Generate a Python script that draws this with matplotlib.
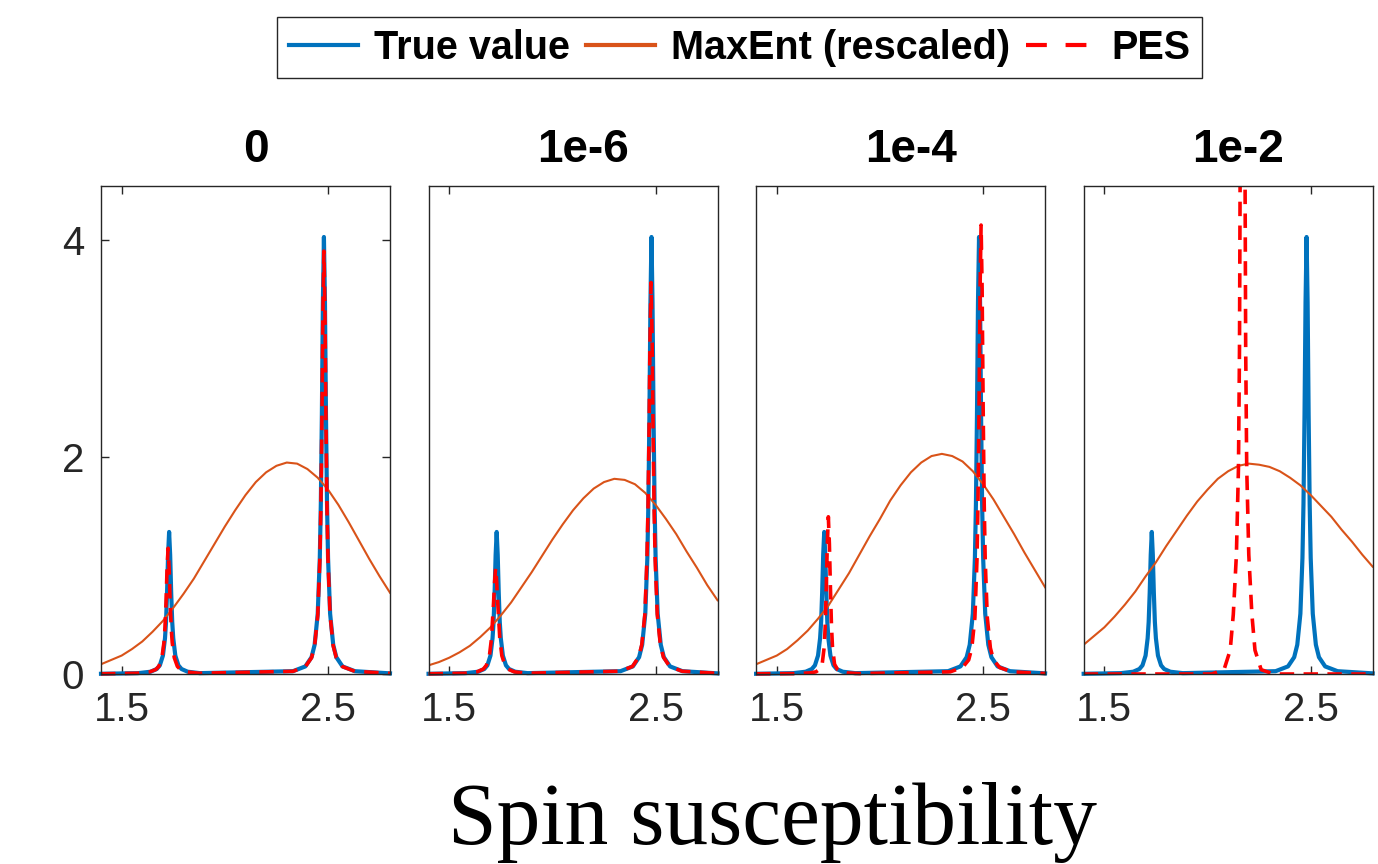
import numpy as np
import matplotlib
matplotlib.use('Agg')
import matplotlib.pyplot as plt
from matplotlib.lines import Line2D

plt.rcParams['font.family'] = ['Liberation Sans', 'DejaVu Sans']

# panel titles (noise level)
titles = ['0', '1e-6', '1e-4', '1e-2']
x_min, x_max = 1.40, 2.80

peak_dx = [-0.15, -0.09, -0.06, -0.045, -0.03, -0.02, -0.015, -0.01, -0.005, 0.0,
           0.005, 0.01, 0.015, 0.02, 0.03, 0.045, 0.06, 0.09, 0.15]

# true value (same in every panel)
true_centres = [1.73, 2.48]
true_small = [0.008, 0.021, 0.046, 0.08, 0.17, 0.33, 0.48, 0.75, 1.10, 1.31,
              1.10, 0.75, 0.48, 0.33, 0.17, 0.08, 0.046, 0.021, 0.008]
true_big = [0.026, 0.07, 0.155, 0.27, 0.556, 1.07, 1.57, 2.38, 3.43, 4.03,
            3.43, 2.38, 1.57, 1.07, 0.556, 0.27, 0.155, 0.07, 0.026]
true_edges = [0.002, 0.006]

# PES reconstructions
pes_centres = [[1.725, 2.48], [1.725, 2.478], [1.75, 2.49], [2.17]]
pes0_small = [0.007, 0.019, 0.041, 0.07, 0.15, 0.29, 0.43, 0.66, 0.97, 1.16,
              0.97, 0.66, 0.43, 0.29, 0.15, 0.07, 0.041, 0.019, 0.007]
pes0_big = [0.025, 0.068, 0.15, 0.26, 0.54, 1.04, 1.52, 2.30, 3.32, 3.90,
            3.32, 2.30, 1.52, 1.04, 0.54, 0.26, 0.15, 0.068, 0.025]
pes1_small = [0.007, 0.02, 0.045, 0.08, 0.17, 0.33, 0.50, 0.66, 0.85, 0.98,
              0.85, 0.66, 0.50, 0.33, 0.17, 0.08, 0.045, 0.02, 0.007]
pes1_big = [0.026, 0.07, 0.155, 0.27, 0.55, 1.05, 1.50, 2.20, 3.10, 3.61,
            3.10, 2.20, 1.50, 1.05, 0.55, 0.27, 0.155, 0.07, 0.026]
pes2_small = [0.004, 0.01, 0.02, 0.04, 0.09, 0.25, 0.45, 0.80, 1.20, 1.45,
              1.20, 0.80, 0.45, 0.25, 0.09, 0.04, 0.02, 0.01, 0.004]
pes2_big = [0.02, 0.06, 0.13, 0.24, 0.52, 1.05, 1.58, 2.45, 3.55, 4.14,
            3.55, 2.45, 1.58, 1.05, 0.52, 0.24, 0.13, 0.06, 0.02]
pes3_peak = [0.0, 0.04, 0.22, 0.55, 1.10, 1.90, 3.00, 5.60, 9.0, 12.0,
             9.0, 5.60, 3.00, 1.90, 1.10, 0.55, 0.22, 0.04, 0.0]
pes_profiles = [[pes0_small, pes0_big], [pes1_small, pes1_big],
                [pes2_small, pes2_big], [pes3_peak]]
pes_edges = [[0.002, 0.006], [0.002, 0.006], [0.002, 0.005], [0.0, 0.0]]

# MaxEnt (rescaled), sampled every 0.05 from 1.40 to 2.80
maxent_x = np.round(np.arange(1.40, 2.801, 0.05), 2)
maxent0 = [0.09, 0.13, 0.17, 0.23, 0.30, 0.39, 0.49, 0.61, 0.74, 0.88, 1.04, 1.20, 1.36, 1.51, 1.65,
           1.77, 1.86, 1.92, 1.95, 1.94, 1.89, 1.81, 1.70, 1.56, 1.40, 1.23, 1.06, 0.90, 0.75]
maxent1 = [0.08, 0.11, 0.15, 0.20, 0.26, 0.34, 0.43, 0.54, 0.66, 0.80, 0.94, 1.09, 1.24, 1.38, 1.51,
           1.62, 1.71, 1.77, 1.80, 1.79, 1.75, 1.67, 1.56, 1.43, 1.29, 1.13, 0.98, 0.82, 0.68]
maxent2 = [0.09, 0.13, 0.17, 0.23, 0.31, 0.40, 0.51, 0.63, 0.78, 0.93, 1.10, 1.27, 1.43, 1.60, 1.74,
           1.86, 1.95, 2.01, 2.03, 2.01, 1.96, 1.87, 1.75, 1.61, 1.45, 1.29, 1.12, 0.96, 0.80]
maxent3 = [0.27, 0.35, 0.43, 0.53, 0.64, 0.76, 0.90, 1.03, 1.18, 1.32, 1.46, 1.59, 1.70, 1.80, 1.87,
           1.92, 1.94, 1.93, 1.91, 1.87, 1.81, 1.74, 1.65, 1.55, 1.45, 1.33, 1.22, 1.10, 0.99]
maxent_all = [maxent0, maxent1, maxent2, maxent3]


def build(centres, profiles, edges):
    xs = [x_min]
    ys = [edges[0]]
    for c, p in zip(centres, profiles):
        xs += [c + d for d in peak_dx]
        ys += list(p)
    xs.append(x_max)
    ys.append(edges[1])
    return xs, ys


c_true = '#0072BD'
c_max = '#D95319'
c_pes = '#FF0000'
c_ax = '#262626'

fig = plt.figure(figsize=(13.78, 8.64), dpi=100)
ax_left, ax_w, ax_step = 0.0733, 0.2097, 0.2377
ax_bot, ax_h = 0.2199, 0.5648

tx, ty = build(true_centres, [true_small, true_big], true_edges)
for i in range(4):
    ax = fig.add_axes([ax_left + i * ax_step, ax_bot, ax_w, ax_h])
    ax.plot(tx, ty, color=c_true, lw=3.0, clip_on=False)
    ax.plot(maxent_x, maxent_all[i], color=c_max, lw=1.5)
    px, py = build(pes_centres[i], pes_profiles[i], pes_edges[i])
    ax.plot(px, py, color=c_pes, lw=2.6, dashes=(4, 2.6),
            clip_on=max(py) > 4.5)
    ax.set_xlim(x_min, x_max)
    ax.set_ylim(0, 4.5)
    ax.set_xticks([1.5, 2.5])
    ax.set_xticklabels(['1.5', '2.5'])
    if i == 0:
        ax.set_yticks([0, 2, 4])
    else:
        ax.set_yticks([])
    ax.tick_params(direction='in', length=6, width=1, top=True, right=True,
                   labelsize=29, color=c_ax, labelcolor=c_ax)
    ax.tick_params(axis='x', pad=12)
    ax.tick_params(axis='y', pad=12)
    for s in ax.spines.values():
        s.set_color(c_ax)
        s.set_linewidth(1.0)
    ax.set_title(titles[i], fontsize=33, fontweight='bold', pad=17, x=0.535)

# legend handles are all drawn thick, as in the original
handles = [Line2D([], [], color=c_true, lw=3.0),
           Line2D([], [], color=c_max, lw=3.0),
           Line2D([], [], color=c_pes, lw=3.0, dashes=(5, 4.5))]
fig.legend(handles, ['True value', 'MaxEnt (rescaled)', 'PES'],
           loc='center', bbox_to_anchor=(0.5366, 0.945), ncol=3,
           prop={'weight': 'bold', 'size': 28.5}, frameon=True, fancybox=False,
           edgecolor=c_ax, framealpha=1, handlelength=1.75, handletextpad=0.4,
           columnspacing=0.4, borderpad=0.3)

fig.text(773 / 1378, 20 / 864, 'Spin susceptibility',
         family=['Liberation Serif', 'DejaVu Serif'], fontsize=63,
         ha='center', va='baseline')

fig.savefig('out.png', dpi=100)
